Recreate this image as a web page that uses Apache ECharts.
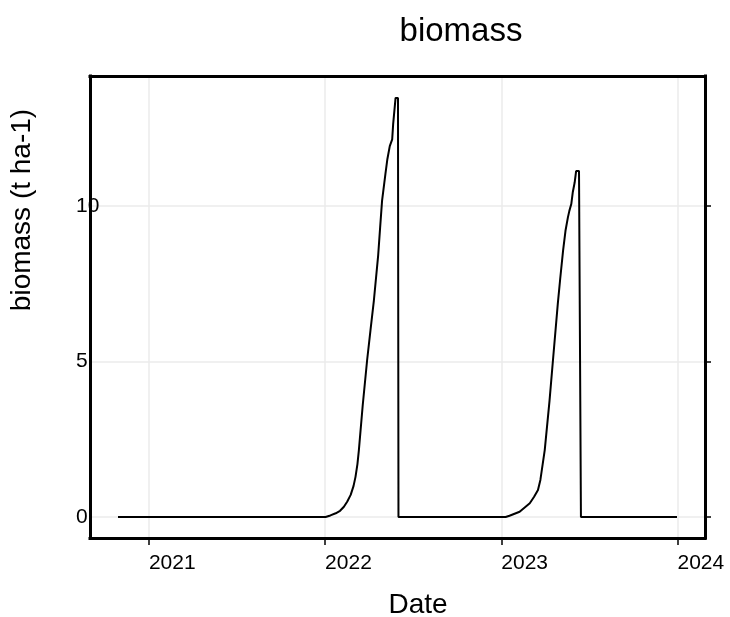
<!DOCTYPE html>
<html>
<head>
<meta charset="utf-8">
<script src="https://cdn.jsdelivr.net/npm/echarts@6/dist/echarts.min.js"></script>
<style>
  html, body { margin: 0; padding: 0; background: #ffffff; }
  #chart { width: 730px; height: 617px; }
</style>
</head>
<body>
<div id="chart"></div>
<script>
// ---- data ----
const dates = [
  '2020-10-29', '2022-01-02', '2022-01-12', '2022-01-23', '2022-02-01', '2022-02-09',
  '2022-02-16', '2022-02-23', '2022-03-01', '2022-03-05', '2022-03-09', '2022-03-12',
  '2022-03-20', '2022-03-29', '2022-04-05', '2022-04-12', '2022-04-21', '2022-04-25',
  '2022-04-29', '2022-05-06', '2022-05-10', '2022-05-15', '2022-05-20', '2022-05-22',
  '2022-05-27', '2022-06-01', '2022-06-02', '2023-01-10', '2023-01-18', '2023-02-08',
  '2023-03-01', '2023-03-10', '2023-03-18', '2023-03-23', '2023-04-01', '2023-04-11',
  '2023-04-18', '2023-04-28', '2023-05-03', '2023-05-09', '2023-05-14', '2023-05-19',
  '2023-05-22', '2023-05-26', '2023-05-29', '2023-06-02', '2023-06-05', '2023-06-11',
  '2023-06-15', '2023-12-31'
];
const biomass = [
  0, 0, 0.05, 0.12, 0.2, 0.33,
  0.5, 0.71, 1.0, 1.29, 1.7, 2.15,
  3.6, 5.03, 6.0, 6.95, 8.42, 9.3,
  10.16, 11.03, 11.5, 11.92, 12.14, 12.63,
  13.47, 13.47, 0, 0, 0.04, 0.17,
  0.44, 0.65, 0.87, 1.19, 2.15, 3.75,
  5.03, 6.84, 7.65, 8.56, 9.2, 9.63,
  9.84, 10.06, 10.43, 10.75, 11.12, 11.12,
  0, 0
];
const xTickDates = ['2021-01-01', '2022-01-01', '2023-01-01', '2024-01-01'];
const yTicks = [0, 5, 10];
const titleText = 'biomass';
const xName = 'Date';
const yName = 'biomass (t ha-1)';

// ---- build ----
const P = s => echarts.number.parseDate(s).getTime();
const seriesData = dates.map((d, i) => [P(d), biomass[i]]);
const xTickVals = xTickDates.map(P);
const xMin = P('2020-09-01');
const xMax = P('2024-02-27');
const yMin = -0.675, yMax = 14.175;

const FONT = 'Liberation Sans, Arial, sans-serif';
const chart = echarts.init(document.getElementById('chart'), null, { renderer: 'canvas' });

const gridLine = { show: true, lineStyle: { color: '#ebebeb', width: 1.5 } };
const border = { show: true, onZero: false, lineStyle: { color: '#000', width: 3, cap: 'square' } };

chart.setOption({
  animation: false,
  backgroundColor: '#ffffff',
  grid: { left: 90, right: 25, top: 76, bottom: 79, containLabel: false },
  xAxis: [
    {
      type: 'value', position: 'bottom', min: xMin, max: xMax, scale: true,
      axisLine: border,
      axisTick: { show: true, customValues: xTickVals, length: 7, inside: false,
                  lineStyle: { color: '#000', width: 1.5 } },
      axisLabel: { show: true, customValues: xTickVals, align: 'left', margin: 15,
                   color: '#000', fontSize: 21, fontFamily: FONT,
                   formatter: v => String(new Date(v).getFullYear()) },
      splitLine: gridLine
    },
    {
      type: 'value', position: 'top', min: xMin, max: xMax, scale: true,
      axisLine: border, axisTick: { show: false }, axisLabel: { show: false }, splitLine: { show: false }
    }
  ],
  yAxis: [
    {
      type: 'value', position: 'left', min: yMin, max: yMax,
      axisLine: border,
      axisTick: { show: false, customValues: yTicks },
      axisLabel: { show: true, customValues: yTicks, align: 'left', margin: 14,
                   color: '#000', fontSize: 21, fontFamily: FONT },
      splitLine: gridLine
    },
    {
      type: 'value', position: 'right', min: yMin, max: yMax,
      axisLine: border,
      axisTick: { show: true, customValues: yTicks, length: 6, inside: false,
                  lineStyle: { color: '#000', width: 1.5 } },
      axisLabel: { show: false },
      splitLine: { show: false }
    }
  ],
  series: [{
    type: 'line', xAxisIndex: 0, yAxisIndex: 0, data: seriesData,
    showSymbol: false, symbol: 'none',
    lineStyle: { color: '#000', width: 2 }, z: 3
  }],
  graphic: [
    { type: 'text', x: 461, y: 32, style: { text: titleText, fontSize: 33, fontFamily: FONT, fill: '#000', align: 'center', verticalAlign: 'middle' } },
    { type: 'text', x: 418, y: 605, style: { text: xName, fontSize: 28, fontFamily: FONT, fill: '#000', align: 'center', verticalAlign: 'middle' } },
    { type: 'text', x: 22, y: 210, rotation: Math.PI / 2, style: { text: yName, fontSize: 28, fontFamily: FONT, fill: '#000', align: 'center', verticalAlign: 'middle' } }
  ]
});
</script>
</body>
</html>
